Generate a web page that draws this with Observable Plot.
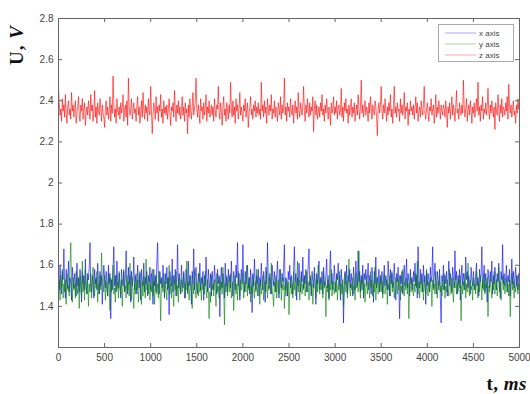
<!DOCTYPE html>
<html>
<head>
<meta charset="utf-8">
<script src="https://cdn.jsdelivr.net/npm/d3@7"></script>
<script src="https://cdn.jsdelivr.net/npm/@observablehq/plot@0.6"></script>
<style>
  html, body { margin: 0; padding: 0; background: #fff; }
  #chart { width: 530px; height: 394px; }
</style>
</head>
<body>
<div id="chart"></div>
<script>
// Accelerometer output voltage over 5 s, one trace per axis
const xTicks = [0, 500, 1000, 1500, 2000, 2500, 3000, 3500, 4000, 4500, 5000];
const yTicks = [1.4, 1.6, 1.8, 2, 2.2, 2.4, 2.6, 2.8];
const seriesNames = ["x axis", "y axis", "z axis"];
const seriesColors = ["#0000ff", "#008000", "#ff0000"];
const duration = 5000;   // ms
const sampleCount = 601; // samples per trace

const xAxisVolts = [
  1.55, 1.48, 1.60, 1.51, 1.46, 1.57, 1.53, 1.68, 1.50, 1.44, 1.58, 1.52, 1.49, 1.62, 1.47, 1.54, 1.51, 1.43, 1.59, 1.53,
  1.49, 1.56, 1.52, 1.45, 1.61, 1.50, 1.54, 1.47, 1.58, 1.52, 1.42, 1.57, 1.51, 1.55, 1.48, 1.63, 1.50, 1.46, 1.56, 1.53,
  1.59, 1.71, 1.50, 1.47, 1.55, 1.52, 1.44, 1.58, 1.51, 1.54, 1.48, 1.61, 1.53, 1.46, 1.57, 1.50, 1.55, 1.41, 1.52, 1.60,
  1.54, 1.49, 1.57, 1.52, 1.45, 1.60, 1.51, 1.56, 1.34, 1.53, 1.48, 1.58, 1.69, 1.50, 1.55, 1.47, 1.62, 1.52, 1.49, 1.56,
  1.51, 1.44, 1.58, 1.53, 1.50, 1.57, 1.47, 1.54, 1.67, 1.52, 1.46, 1.59, 1.51, 1.55, 1.42, 1.57, 1.50, 1.53, 1.64, 1.48,
  1.55, 1.51, 1.46, 1.60, 1.53, 1.49, 1.56, 1.43, 1.58, 1.52, 1.50, 1.61, 1.47, 1.54, 1.51, 1.57, 1.45, 1.55, 1.52, 1.59,
  1.48, 1.56, 1.53, 1.41, 1.58, 1.50, 1.55, 1.47, 1.62, 1.71, 1.52, 1.46, 1.57, 1.51, 1.54, 1.49, 1.60, 1.53, 1.44, 1.56,
  1.51, 1.59, 1.48, 1.54, 1.36, 1.57, 1.52, 1.50, 1.63, 1.47, 1.55, 1.51, 1.58, 1.45, 1.53, 1.70, 1.49, 1.56, 1.52, 1.46,
  1.60, 1.53, 1.49, 1.57, 1.51, 1.44, 1.58, 1.54, 1.47, 1.62, 1.50, 1.55, 1.52, 1.41, 1.57, 1.51, 1.68, 1.48, 1.54, 1.59,
  1.50, 1.46, 1.56, 1.52, 1.61, 1.48, 1.54, 1.51, 1.57, 1.43, 1.55, 1.50, 1.64, 1.53, 1.47, 1.58, 1.52, 1.49, 1.56, 1.45,
  1.57, 1.52, 1.48, 1.60, 1.54, 1.50, 1.46, 1.58, 1.51, 1.55, 1.35, 1.53, 1.59, 1.49, 1.56, 1.52, 1.44, 1.61, 1.50, 1.54,
  1.47, 1.58, 1.52, 1.55, 1.49, 1.62, 1.51, 1.45, 1.57, 1.53, 1.48, 1.60, 1.54, 1.71, 1.50, 1.56, 1.43, 1.52, 1.58, 1.51,
  1.70, 1.53, 1.47, 1.57, 1.51, 1.55, 1.60, 1.49, 1.54, 1.46, 1.58, 1.52, 1.37, 1.56, 1.50, 1.63, 1.53, 1.48, 1.55, 1.51,
  1.58, 1.45, 1.54, 1.50, 1.61, 1.52, 1.48, 1.57, 1.53, 1.42, 1.59, 1.51, 1.71, 1.55, 1.49, 1.56, 1.52, 1.46, 1.60, 1.54,
  1.50, 1.57, 1.52, 1.47, 1.55, 1.62, 1.51, 1.44, 1.58, 1.53, 1.49, 1.56, 1.52, 1.59, 1.70, 1.48, 1.54, 1.51, 1.45, 1.57,
  1.53, 1.60, 1.49, 1.55, 1.51, 1.46, 1.58, 1.69, 1.52, 1.56, 1.43, 1.54, 1.50, 1.61, 1.53, 1.47, 1.57, 1.52, 1.64, 1.49,
  1.55, 1.51, 1.58, 1.47, 1.53, 1.60, 1.68, 1.50, 1.54, 1.45, 1.57, 1.52, 1.49, 1.59, 1.53, 1.41, 1.56, 1.51, 1.55, 1.62,
  1.48, 1.54, 1.51, 1.57, 1.46, 1.59, 1.52, 1.50, 1.55, 1.63, 1.49, 1.53, 1.44, 1.58, 1.67, 1.51, 1.56, 1.48, 1.53, 1.60,
  1.52, 1.47, 1.56, 1.53, 1.61, 1.50, 1.55, 1.43, 1.58, 1.52, 1.49, 1.32, 1.54, 1.57, 1.51, 1.60, 1.46, 1.55, 1.52, 1.58,
  1.49, 1.56, 1.51, 1.45, 1.59, 1.53, 1.48, 1.62, 1.54, 1.50, 1.67, 1.52, 1.57, 1.47, 1.55, 1.51, 1.60, 1.44, 1.56, 1.53,
  1.58, 1.50, 1.54, 1.61, 1.48, 1.55, 1.52, 1.46, 1.59, 1.53, 1.42, 1.57, 1.51, 1.64, 1.49, 1.54, 1.52, 1.58, 1.47, 1.55,
  1.51, 1.57, 1.46, 1.53, 1.60, 1.50, 1.55, 1.52, 1.48, 1.62, 1.54, 1.45, 1.58, 1.51, 1.56, 1.49, 1.53, 1.61, 1.50, 1.43,
  1.56, 1.52, 1.59, 1.48, 1.34, 1.55, 1.51, 1.57, 1.46, 1.53, 1.60, 1.50, 1.54, 1.63, 1.49, 1.56, 1.52, 1.45, 1.58, 1.51,
  1.54, 1.48, 1.57, 1.52, 1.61, 1.50, 1.55, 1.44, 1.69, 1.53, 1.49, 1.58, 1.51, 1.56, 1.47, 1.60, 1.52, 1.55, 1.41, 1.57,
  1.50, 1.56, 1.53, 1.47, 1.59, 1.52, 1.55, 1.69, 1.49, 1.54, 1.61, 1.51, 1.46, 1.57, 1.53, 1.50, 1.58, 1.44, 1.32, 1.55,
  1.52, 1.60, 1.48, 1.55, 1.51, 1.57, 1.45, 1.53, 1.62, 1.50, 1.56, 1.52, 1.47, 1.59, 1.54, 1.49, 1.67, 1.53, 1.57, 1.46,
  1.55, 1.51, 1.58, 1.43, 1.54, 1.60, 1.50, 1.56, 1.52, 1.48, 1.64, 1.53, 1.57, 1.49, 1.55, 1.51, 1.46, 1.59, 1.53, 1.50,
  1.57, 1.52, 1.48, 1.56, 1.61, 1.50, 1.54, 1.45, 1.58, 1.52, 1.55, 1.69, 1.49, 1.53, 1.60, 1.47, 1.56, 1.51, 1.42, 1.58,
  1.53, 1.49, 1.57, 1.52, 1.62, 1.46, 1.55, 1.51, 1.59, 1.54, 1.48, 1.56, 1.52, 1.61, 1.50, 1.44, 1.57, 1.53, 1.70, 1.51,
  1.56, 1.50, 1.54, 1.60, 1.47, 1.55, 1.52, 1.58, 1.45, 1.53, 1.63, 1.51, 1.57, 1.49, 1.54, 1.59, 1.50, 1.55, 1.48, 1.56,
  1.53
];

const yAxisVolts = [
  1.46, 1.52, 1.43, 1.55, 1.49, 1.58, 1.44, 1.51, 1.47, 1.53, 1.41, 1.56, 1.48, 1.50, 1.45, 1.60, 1.71, 1.49, 1.42, 1.54,
  1.48, 1.51, 1.44, 1.57, 1.50, 1.46, 1.53, 1.39, 1.55, 1.49, 1.45, 1.62, 1.47, 1.52, 1.43, 1.58, 1.50, 1.46, 1.54, 1.40,
  1.51, 1.47, 1.56, 1.44, 1.50, 1.59, 1.48, 1.45, 1.53, 1.49, 1.57, 1.42, 1.51, 1.46, 1.55, 1.48, 1.66, 1.54, 1.50, 1.47,
  1.55, 1.43, 1.52, 1.48, 1.45, 1.56, 1.50, 1.38, 1.54, 1.47, 1.51, 1.60, 1.46, 1.49, 1.42, 1.55, 1.48, 1.52, 1.44, 1.57,
  1.49, 1.46, 1.53, 1.40, 1.51, 1.58, 1.47, 1.50, 1.44, 1.55, 1.48, 1.52, 1.45, 1.61, 1.49, 1.43, 1.54, 1.47, 1.39, 1.51,
  1.46, 1.56, 1.48, 1.53, 1.42, 1.50, 1.57, 1.47, 1.41, 1.52, 1.45, 1.55, 1.49, 1.44, 1.63, 1.48, 1.51, 1.46, 1.54, 1.43,
  1.50, 1.47, 1.58, 1.45, 1.52, 1.41, 1.49, 1.55, 1.46, 1.51, 1.44, 1.57, 1.48, 1.33, 1.53, 1.50, 1.47, 1.56, 1.45, 1.52,
  1.48, 1.43, 1.54, 1.49, 1.60, 1.46, 1.51, 1.44, 1.55, 1.47, 1.40, 1.52, 1.48, 1.57, 1.45, 1.50, 1.42, 1.54, 1.49, 1.46,
  1.53, 1.47, 1.50, 1.56, 1.44, 1.51, 1.48, 1.62, 1.46, 1.52, 1.43, 1.49, 1.55, 1.47, 1.39, 1.51, 1.46, 1.58, 1.48, 1.44,
  1.52, 1.49, 1.45, 1.56, 1.47, 1.50, 1.43, 1.54, 1.48, 1.51, 1.46, 1.57, 1.49, 1.44, 1.53, 1.50, 1.34, 1.47, 1.42, 1.55,
  1.48, 1.51, 1.45, 1.53, 1.49, 1.40, 1.56, 1.47, 1.50, 1.44, 1.54, 1.48, 1.52, 1.46, 1.59, 1.49, 1.31, 1.51, 1.47, 1.55,
  1.45, 1.50, 1.53, 1.47, 1.56, 1.44, 1.49, 1.52, 1.38, 1.48, 1.55, 1.46, 1.51, 1.43, 1.57, 1.49, 1.45, 1.53, 1.48, 1.50,
  1.56, 1.44, 1.49, 1.52, 1.47, 1.60, 1.45, 1.51, 1.48, 1.54, 1.42, 1.50, 1.46, 1.55, 1.49, 1.44, 1.52, 1.47, 1.58, 1.45,
  1.51, 1.48, 1.41, 1.53, 1.46, 1.50, 1.55, 1.43, 1.49, 1.52, 1.47, 1.57, 1.44, 1.50, 1.48, 1.54, 1.46, 1.61, 1.49, 1.45,
  1.40, 1.52, 1.47, 1.55, 1.44, 1.50, 1.53, 1.46, 1.49, 1.58, 1.43, 1.51, 1.48, 1.54, 1.39, 1.50, 1.45, 1.53, 1.47, 1.52,
  1.36, 1.49, 1.54, 1.46, 1.51, 1.44, 1.57, 1.48, 1.52, 1.45, 1.50, 1.62, 1.47, 1.53, 1.43, 1.49, 1.55, 1.46, 1.51, 1.48,
  1.54, 1.45, 1.50, 1.57, 1.47, 1.52, 1.43, 1.49, 1.55, 1.46, 1.51, 1.41, 1.48, 1.56, 1.50, 1.44, 1.53, 1.47, 1.60, 1.49,
  1.46, 1.53, 1.48, 1.51, 1.44, 1.56, 1.49, 1.52, 1.35, 1.50, 1.47, 1.55, 1.43, 1.51, 1.48, 1.58, 1.45, 1.52, 1.49, 1.46,
  1.52, 1.47, 1.55, 1.43, 1.50, 1.48, 1.57, 1.45, 1.51, 1.46, 1.53, 1.40, 1.49, 1.56, 1.47, 1.52, 1.44, 1.50, 1.63, 1.48,
  1.45, 1.51, 1.48, 1.54, 1.46, 1.50, 1.43, 1.56, 1.49, 1.52, 1.47, 1.67, 1.50, 1.44, 1.53, 1.48, 1.55, 1.46, 1.51, 1.42,
  1.50, 1.55, 1.46, 1.52, 1.48, 1.44, 1.57, 1.49, 1.53, 1.45, 1.51, 1.47, 1.59, 1.43, 1.50, 1.54, 1.46, 1.52, 1.48, 1.55,
  1.47, 1.52, 1.44, 1.50, 1.56, 1.46, 1.49, 1.53, 1.41, 1.51, 1.48, 1.55, 1.45, 1.50, 1.57, 1.47, 1.52, 1.44, 1.49, 1.54,
  1.51, 1.46, 1.53, 1.48, 1.55, 1.43, 1.50, 1.47, 1.58, 1.49, 1.45, 1.52, 1.48, 1.54, 1.46, 1.51, 1.34, 1.50, 1.56, 1.47,
  1.53, 1.48, 1.45, 1.51, 1.47, 1.56, 1.49, 1.62, 1.46, 1.52, 1.44, 1.50, 1.55, 1.47, 1.51, 1.43, 1.53, 1.49, 1.46, 1.58,
  1.49, 1.45, 1.52, 1.47, 1.54, 1.50, 1.40, 1.53, 1.48, 1.51, 1.46, 1.57, 1.49, 1.44, 1.52, 1.48, 1.55, 1.47, 1.50, 1.45,
  1.52, 1.48, 1.56, 1.44, 1.50, 1.47, 1.53, 1.49, 1.45, 1.58, 1.51, 1.46, 1.54, 1.48, 1.42, 1.52, 1.49, 1.55, 1.46, 1.51,
  1.47, 1.53, 1.49, 1.55, 1.33, 1.50, 1.46, 1.52, 1.48, 1.56, 1.44, 1.51, 1.47, 1.61, 1.49, 1.45, 1.53, 1.48, 1.50, 1.43,
  1.54, 1.48, 1.51, 1.46, 1.57, 1.49, 1.44, 1.52, 1.47, 1.55, 1.50, 1.43, 1.53, 1.48, 1.56, 1.46, 1.51, 1.49, 1.54, 1.35,
  1.50, 1.47, 1.55, 1.49, 1.44, 1.52, 1.48, 1.57, 1.46, 1.51, 1.53, 1.45, 1.50, 1.59, 1.47, 1.52, 1.43, 1.49, 1.55, 1.48,
  1.52, 1.46, 1.50, 1.54, 1.47, 1.51, 1.45, 1.53, 1.35, 1.49, 1.56, 1.48, 1.52, 1.44, 1.50, 1.47, 1.55, 1.49, 1.46, 1.51,
  1.48
];

const zAxisVolts = [
  2.47, 2.39, 2.33, 2.36, 2.30, 2.41, 2.35, 2.38, 2.32, 2.43, 2.34, 2.29, 2.37, 2.40, 2.33, 2.36, 2.31, 2.44, 2.35, 2.38,
  2.32, 2.36, 2.40, 2.29, 2.34, 2.37, 2.42, 2.33, 2.30, 2.38, 2.35, 2.41, 2.31, 2.36, 2.39, 2.28, 2.34, 2.37, 2.33, 2.40,
  2.36, 2.31, 2.43, 2.35, 2.38, 2.30, 2.34, 2.45, 2.32, 2.37, 2.29, 2.39, 2.35, 2.33, 2.41, 2.36, 2.30, 2.38, 2.34, 2.32,
  2.27, 2.36, 2.40, 2.33, 2.37, 2.31, 2.35, 2.42, 2.30, 2.38, 2.34, 2.52, 2.39, 2.32, 2.36, 2.29, 2.41, 2.35, 2.33, 2.37,
  2.31, 2.39, 2.34, 2.36, 2.43, 2.30, 2.35, 2.38, 2.32, 2.40, 2.28, 2.51, 2.37, 2.33, 2.36, 2.41, 2.31, 2.35, 2.39, 2.34,
  2.36, 2.30, 2.38, 2.42, 2.33, 2.37, 2.29, 2.35, 2.40, 2.32, 2.44, 2.36, 2.31, 2.38, 2.34, 2.37, 2.30, 2.41, 2.35, 2.33,
  2.47, 2.35, 2.24, 2.33, 2.39, 2.36, 2.31, 2.42, 2.34, 2.37, 2.30, 2.38, 2.35, 2.43, 2.32, 2.36, 2.29, 2.40, 2.34, 2.37,
  2.33, 2.38, 2.31, 2.36, 2.41, 2.34, 2.28, 2.37, 2.35, 2.39, 2.32, 2.45, 2.36, 2.30, 2.38, 2.34, 2.40, 2.33, 2.37, 2.31,
  2.35, 2.42, 2.33, 2.37, 2.30, 2.39, 2.34, 2.36, 2.24, 2.38, 2.32, 2.41, 2.35, 2.31, 2.37, 2.44, 2.33, 2.36, 2.40, 2.51,
  2.36, 2.32, 2.38, 2.34, 2.29, 2.41, 2.35, 2.37, 2.31, 2.39, 2.33, 2.36, 2.43, 2.30, 2.37, 2.34, 2.40, 2.32, 2.35, 2.38,
  2.33, 2.37, 2.30, 2.41, 2.35, 2.32, 2.38, 2.36, 2.47, 2.34, 2.31, 2.39, 2.35, 2.28, 2.37, 2.42, 2.33, 2.36, 2.30, 2.39,
  2.35, 2.31, 2.38, 2.34, 2.49, 2.36, 2.32, 2.40, 2.33, 2.37, 2.29, 2.41, 2.35, 2.38, 2.31, 2.36, 2.44, 2.33, 2.37, 2.34,
  2.30, 2.38, 2.35, 2.41, 2.32, 2.36, 2.39, 2.27, 2.34, 2.37, 2.42, 2.33, 2.36, 2.31, 2.38, 2.35, 2.40, 2.32, 2.37, 2.34,
  2.39, 2.33, 2.36, 2.31, 2.49, 2.35, 2.38, 2.32, 2.40, 2.34, 2.37, 2.29, 2.41, 2.36, 2.33, 2.38, 2.35, 2.43, 2.31, 2.36,
  2.34, 2.40, 2.32, 2.37, 2.35, 2.30, 2.39, 2.36, 2.33, 2.42, 2.31, 2.38, 2.34, 2.36, 2.51, 2.33, 2.37, 2.30, 2.39, 2.35,
  2.37, 2.32, 2.41, 2.35, 2.33, 2.38, 2.29, 2.36, 2.40, 2.34, 2.37, 2.31, 2.44, 2.35, 2.32, 2.39, 2.36, 2.33, 2.38, 2.47,
  2.35, 2.30, 2.38, 2.34, 2.41, 2.36, 2.32, 2.39, 2.33, 2.37, 2.35, 2.42, 2.25, 2.36, 2.40, 2.33, 2.38, 2.31, 2.35, 2.37,
  2.32, 2.39, 2.35, 2.43, 2.33, 2.36, 2.30, 2.38, 2.34, 2.41, 2.36, 2.31, 2.37, 2.35, 2.28, 2.39, 2.34, 2.36, 2.42, 2.33,
  2.37, 2.34, 2.40, 2.31, 2.36, 2.38, 2.33, 2.35, 2.46, 2.32, 2.37, 2.30, 2.39, 2.35, 2.41, 2.34, 2.36, 2.29, 2.38, 2.33,
  2.36, 2.41, 2.32, 2.37, 2.34, 2.39, 2.30, 2.35, 2.38, 2.33, 2.43, 2.36, 2.31, 2.37, 2.50, 2.34, 2.38, 2.32, 2.36, 2.40,
  2.33, 2.37, 2.35, 2.30, 2.39, 2.34, 2.42, 2.36, 2.31, 2.38, 2.35, 2.33, 2.40, 2.37, 2.32, 2.23, 2.36, 2.39, 2.34, 2.38,
  2.47, 2.35, 2.31, 2.38, 2.34, 2.41, 2.36, 2.30, 2.37, 2.33, 2.39, 2.35, 2.43, 2.32, 2.36, 2.29, 2.38, 2.47, 2.34, 2.37,
  2.32, 2.39, 2.35, 2.36, 2.30, 2.41, 2.34, 2.38, 2.33, 2.36, 2.44, 2.31, 2.37, 2.35, 2.39, 2.28, 2.36, 2.33, 2.40, 2.35,
  2.37, 2.33, 2.38, 2.31, 2.36, 2.42, 2.34, 2.39, 2.30, 2.35, 2.37, 2.32, 2.40, 2.36, 2.33, 2.38, 2.47, 2.34, 2.31, 2.36,
  2.39, 2.34, 2.30, 2.37, 2.35, 2.41, 2.33, 2.36, 2.38, 2.29, 2.35, 2.43, 2.32, 2.37, 2.34, 2.40, 2.36, 2.31, 2.38, 2.35,
  2.33, 2.38, 2.36, 2.32, 2.40, 2.35, 2.27, 2.37, 2.34, 2.39, 2.31, 2.36, 2.42, 2.33, 2.38, 2.35, 2.30, 2.37, 2.45, 2.34,
  2.36, 2.31, 2.39, 2.35, 2.33, 2.38, 2.34, 2.50, 2.37, 2.32, 2.36, 2.41, 2.30, 2.35, 2.38, 2.33, 2.40, 2.36, 2.29, 2.37,
  2.34, 2.39, 2.32, 2.36, 2.41, 2.35, 2.49, 2.33, 2.37, 2.30, 2.38, 2.35, 2.42, 2.31, 2.36, 2.34, 2.39, 2.33, 2.37, 2.46,
  2.35, 2.31, 2.38, 2.34, 2.40, 2.36, 2.32, 2.37, 2.26, 2.39, 2.35, 2.33, 2.43, 2.36, 2.30, 2.38, 2.34, 2.41, 2.32, 2.37,
  2.36, 2.33, 2.39, 2.35, 2.42, 2.31, 2.48, 2.37, 2.34, 2.38, 2.32, 2.36, 2.40, 2.33, 2.35, 2.29, 2.38, 2.34, 2.41, 2.36,
  2.39
];

// Long-format table: z drawn first, then x, then y on top
const dt = duration / (sampleCount - 1);
const traces = [["z axis", zAxisVolts], ["x axis", xAxisVolts], ["y axis", yAxisVolts]];
const samples = traces.flatMap(([name, volts]) =>
  volts.map((u, i) => ({series: name, t: i * dt, u}))
);

const W = 530, H = 394;
const mL = 58, mR = 11, mT = 18, mB = 47;
const frameW = W - mL - mR, frameH = H - mT - mB;
const tickLen = 4;
const axisColor = "#666";

const chart = Plot.plot({
  width: W,
  height: H,
  marginLeft: mL,
  marginRight: mR,
  marginTop: mT,
  marginBottom: mB,
  style: {
    fontFamily: "'Liberation Sans', Arial, sans-serif",
    fontSize: "10px",
    color: "#444",
    background: "#fff"
  },
  x: {domain: [0, 5000]},
  y: {domain: [1.2, 2.8]},
  color: {domain: seriesNames, range: seriesColors},
  marks: [
    Plot.line(samples, {x: "t", y: "u", z: "series", stroke: "series", strokeWidth: 0.6}),
    // inward tick marks on all four sides
    Plot.tickX(xTicks, {x: d => d, insetTop: frameH - tickLen, stroke: axisColor}),
    Plot.tickX(xTicks, {x: d => d, insetBottom: frameH - tickLen, stroke: axisColor}),
    Plot.tickY(yTicks, {y: d => d, insetRight: frameW - tickLen, stroke: axisColor}),
    Plot.tickY(yTicks, {y: d => d, insetLeft: frameW - tickLen, stroke: axisColor}),
    Plot.axisX(xTicks, {tickSize: 0, tickPadding: 6, label: null, tickFormat: d => String(d)}),
    Plot.axisY(yTicks, {tickSize: 0, tickPadding: 5, label: null, tickFormat: d => String(d)}),
    Plot.frame({stroke: axisColor})
  ]
});

document.getElementById("chart").appendChild(chart);

const svg = d3.select(chart);
const serif = "'Liberation Serif', 'Times New Roman', serif";

// Axis titles
const yTitle = svg.append("text")
  .attr("transform", "translate(23,45) rotate(-90)")
  .attr("text-anchor", "middle")
  .attr("font-family", serif)
  .attr("font-weight", "bold")
  .attr("font-size", 19)
  .attr("letter-spacing", 1)
  .attr("fill", "#111");
yTitle.append("tspan").text("U, ");
yTitle.append("tspan").attr("font-style", "italic").text("V");

const xTitle = svg.append("text")
  .attr("x", 527)
  .attr("y", 390)
  .attr("text-anchor", "end")
  .attr("font-family", serif)
  .attr("font-weight", "bold")
  .attr("font-size", 19)
  .attr("letter-spacing", 0.5)
  .attr("fill", "#111");
xTitle.append("tspan").text("t, ");
xTitle.append("tspan").attr("font-style", "italic").text("ms");

// Legend box in the upper-right corner of the axes
const legend = svg.append("g").attr("text-anchor", "start");
legend.append("rect")
  .attr("x", 438.5).attr("y", 24.5)
  .attr("width", 75).attr("height", 37)
  .attr("fill", "#fff")
  .attr("stroke", "#aaa");
seriesNames.forEach((name, i) => {
  const cy = 33 + i * 11;
  legend.append("line")
    .attr("x1", 445).attr("x2", 476)
    .attr("y1", cy).attr("y2", cy)
    .attr("stroke", seriesColors[i])
    .attr("stroke-opacity", 0.35)
    .attr("stroke-width", 1);
  legend.append("text")
    .attr("x", 479).attr("y", cy)
    .attr("dy", "0.35em")
    .attr("font-size", 8)
    .attr("font-family", "'Liberation Sans', Arial, sans-serif")
    .attr("fill", "#444")
    .text(name);
});
</script>
</body>
</html>
